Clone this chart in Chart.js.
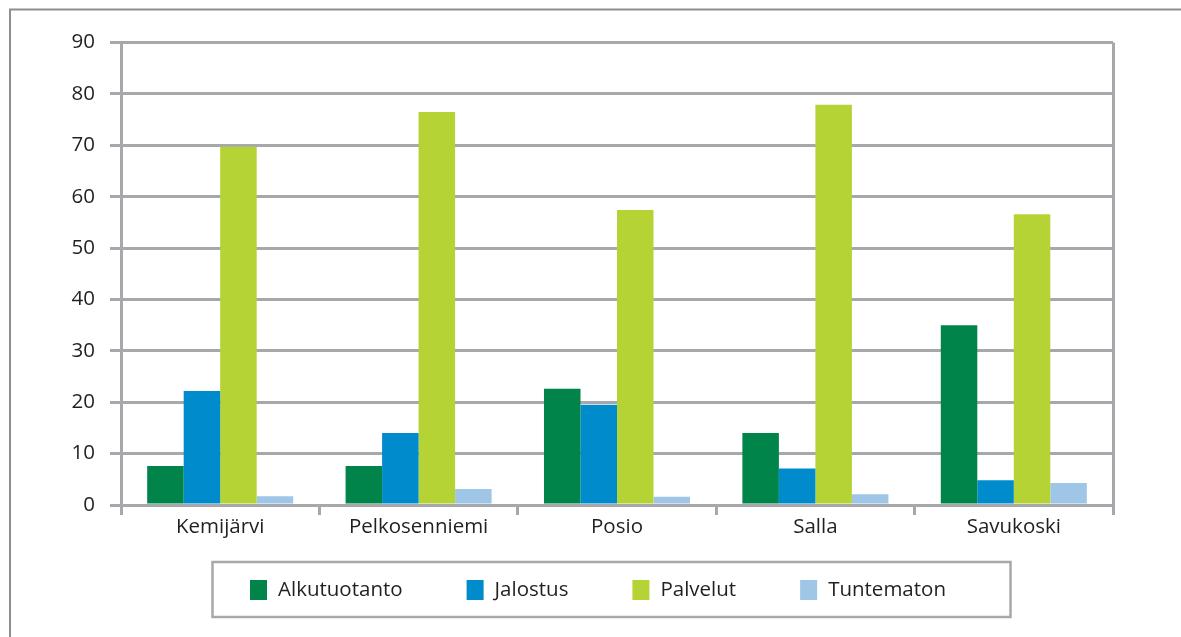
<!DOCTYPE html>
<html><head><meta charset="utf-8">
<script src="https://cdn.jsdelivr.net/npm/chart.js@4/dist/chart.umd.min.js"></script>
<style>html,body{margin:0;padding:0;background:#fff;overflow:hidden}</style>
</head><body>
<canvas id="c" width="1181" height="637"></canvas>
<script>
const categories = ['Kemijärvi', 'Pelkosenniemi', 'Posio', 'Salla', 'Savukoski'];
const seriesNames = ['Alkutuotanto', 'Jalostus', 'Palvelut', 'Tuntematon'];
const alkutuotanto = [7.6, 7.6, 22.6, 14.0, 35.0];
const jalostus = [22.2, 14.0, 19.5, 7.1, 4.8];
const palvelut = [69.7, 76.5, 57.4, 77.9, 56.6];
const tuntematon = [1.7, 3.1, 1.6, 2.1, 4.3];
const yTickValues = [0, 10, 20, 30, 40, 50, 60, 70, 80, 90];
const seriesColors = ['#00844a', '#008ccc', '#b5d334', '#9fc6e7'];

const GRID = '#a6a8ab';
const TEXT = '#231f20';
const FONT = "'Open Sans', sans-serif";

const frame = {
  id: 'frame',
  beforeDraw(chart) {
    const ctx = chart.ctx;
    ctx.save();
    ctx.fillStyle = '#fff';
    ctx.fillRect(0, 0, chart.width, chart.height);
    ctx.strokeStyle = '#8e8e8e';
    ctx.lineWidth = 2;
    ctx.beginPath();
    ctx.moveTo(10, chart.height);
    ctx.lineTo(10, 9.5);
    ctx.lineTo(chart.width, 9.5);
    ctx.stroke();
    ctx.restore();
  },
  afterDraw(chart) {
    const ctx = chart.ctx;
    ctx.save();
    ctx.strokeStyle = GRID;
    ctx.lineWidth = 2.5;
    ctx.strokeRect(212.5, 562, 798, 55);
    let x = 250;
    const cy = 590;
    ctx.font = "20.5px " + FONT;
    ctx.textBaseline = 'middle';
    ctx.textAlign = 'left';
    chart.data.datasets.forEach(ds => {
      ctx.fillStyle = ds.backgroundColor;
      ctx.fillRect(x, 580, 17, 20);
      ctx.fillStyle = TEXT;
      ctx.fillText(ds.label, x + 28, cy);
      const w = ctx.measureText(ds.label).width;
      x += 28 + w + 64;
    });
    ctx.restore();
  }
};

const seriesValues = [alkutuotanto, jalostus, palvelut, tuntematon];

new Chart(document.getElementById('c'), {
  type: 'bar',
  data: {
    labels: categories,
    datasets: seriesNames.map((name, i) => ({
      label: name,
      data: seriesValues[i],
      backgroundColor: seriesColors[i],
      borderWidth: 0,
      categoryPercentage: 0.736,
      barPercentage: 1.0
    }))
  },
  options: {
    responsive: false,
    animation: false,
    devicePixelRatio: 1,
    layout: { padding: { left: 10, right: 68, top: 42.5, bottom: 92 } },
    plugins: { legend: { display: false }, tooltip: { enabled: false } },
    scales: {
      x: {
        afterFit(s) { s.height = 40; },
        grid: {
          offset: true,
          color: c => (c.type === 'scale' || c.index === 0) ? GRID : 'rgba(0,0,0,0)',
          tickColor: GRID,
          lineWidth: 3,
          tickWidth: 3,
          tickLength: 10,
          drawOnChartArea: true
        },
        border: { display: true, color: GRID, width: 3 },
        ticks: { color: TEXT, font: { family: FONT, size: 20.5 }, padding: 0, maxRotation: 0 }
      },
      y: {
        min: 0,
        max: 90,
        afterFit(s) { s.width = 111; },
        afterBuildTicks(s) { s.ticks = yTickValues.map(v => ({ value: v })); },
        grid: { color: GRID, lineWidth: 3, tickLength: 11, tickColor: GRID, tickWidth: 3 },
        border: { display: true, color: GRID, width: 3 },
        ticks: { color: TEXT, font: { family: FONT, size: 20.5 }, padding: 15, stepSize: 10 }
      }
    }
  },
  plugins: [frame]
});
</script>
</body></html>
